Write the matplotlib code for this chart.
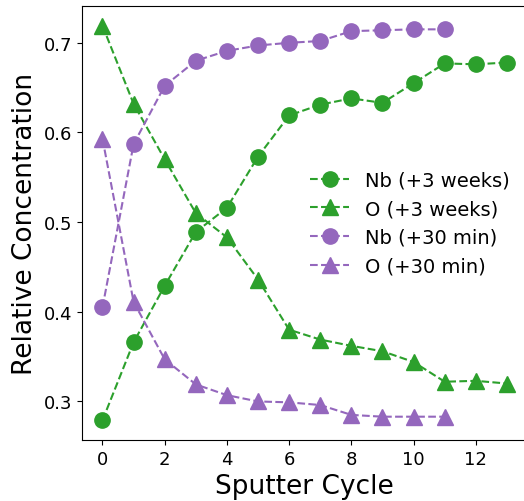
import matplotlib
matplotlib.use('Agg')
import matplotlib.pyplot as plt

# valores
ciclos_3w = list(range(14))
ciclos_30m = list(range(12))

nb_3w = [0.279, 0.366, 0.429, 0.489, 0.516, 0.573, 0.619, 0.631, 0.638, 0.633, 0.655, 0.677, 0.676, 0.678]
o_3w = [0.719, 0.632, 0.570, 0.510, 0.483, 0.436, 0.380, 0.369, 0.362, 0.356, 0.344, 0.322, 0.323, 0.320]
nb_30m = [0.405, 0.587, 0.652, 0.680, 0.691, 0.697, 0.700, 0.702, 0.713, 0.714, 0.715, 0.715]
o_30m = [0.593, 0.411, 0.347, 0.319, 0.307, 0.300, 0.299, 0.296, 0.285, 0.283, 0.283, 0.283]

verde = 'tab:green'
violeta = 'tab:purple'

fig = plt.figure(figsize=(5.24, 5.02), dpi=100)
ax = fig.add_axes([0.157, 0.1215, 0.849, 0.8645])

ax.plot(ciclos_3w, nb_3w, '--o', color=verde, markersize=11, label='Nb (+3 weeks)')
ax.plot(ciclos_3w, o_3w, '--^', color=verde, markersize=11, label='O (+3 weeks)')
ax.plot(ciclos_30m, nb_30m, '--o', color=violeta, markersize=11, label='Nb (+30 min)')
ax.plot(ciclos_30m, o_30m, '--^', color=violeta, markersize=11, label='O (+30 min)')

ax.set_xticks([0, 2, 4, 6, 8, 10, 12])
ax.set_yticks([0.3, 0.4, 0.5, 0.6, 0.7])
ax.tick_params(labelsize=13)
ax.set_xlabel('Sputter Cycle', fontsize=19)
ax.set_ylabel('Relative Concentration', fontsize=19)
ax.legend(loc='center right', frameon=False, fontsize=14)

plt.savefig('out.png', dpi=100)
